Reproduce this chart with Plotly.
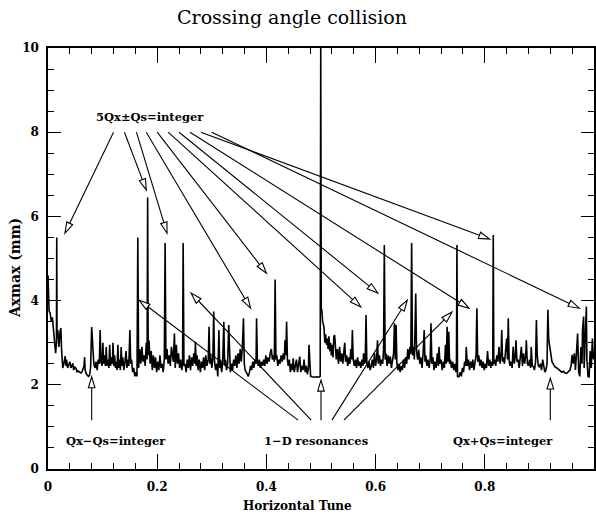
import math
import plotly.graph_objects as go

# ---------------- data ----------------
# (horizontal tune, Axmax in mm) samples, segment by segment
seg_a = [(0.000, 4.6), (0.002, 3.75), (0.004, 3.7), (0.006, 3.5), (0.008, 3.6), (0.010, 3.3),
         (0.012, 3.2), (0.014, 2.75), (0.0155, 3.0), (0.016, 5.5), (0.0165, 3.1), (0.018, 3.3),
         (0.020, 2.9), (0.022, 3.25), (0.0235, 3.35), (0.025, 2.8), (0.027, 2.4), (0.029, 2.5),
         (0.0315, 2.68), (0.033, 2.45), (0.034, 2.6), (0.036, 2.4), (0.038, 2.5), (0.040, 2.55)]
seg_b = [(0.042, 2.4), (0.044, 2.45), (0.0455, 2.51), (0.047, 2.35), (0.049, 2.42), (0.0515, 2.39),
         (0.053, 2.3), (0.055, 2.33), (0.0576, 2.31), (0.060, 2.28), (0.062, 2.3), (0.064, 2.4),
         (0.066, 2.45), (0.067, 2.66), (0.068, 2.35), (0.070, 2.26), (0.072, 2.22), (0.074, 2.2),
         (0.076, 2.22), (0.078, 2.4), (0.080, 3.37)]
seg_c = [(0.082, 2.75), (0.084, 2.5), (0.086, 2.4), (0.088, 2.55), (0.090, 2.35), (0.092, 2.6),
         (0.094, 2.5), (0.0955, 3.3), (0.097, 2.55), (0.099, 2.45), (0.1005, 3.0), (0.102, 2.5),
         (0.104, 2.7), (0.105, 2.45), (0.1067, 2.9), (0.108, 2.45), (0.110, 2.6), (0.1115, 2.4),
         (0.113, 2.95), (0.1145, 2.45), (0.116, 2.65), (0.118, 2.5), (0.119, 3.0), (0.1205, 2.45),
         (0.122, 2.7), (0.1235, 2.4), (0.125, 2.55), (0.1265, 2.35), (0.128, 2.95), (0.1295, 2.4),
         (0.131, 2.6), (0.1325, 2.35), (0.134, 2.9), (0.1355, 2.45), (0.137, 2.65), (0.139, 2.35),
         (0.141, 2.55), (0.143, 2.8), (0.1445, 2.4), (0.146, 2.6), (0.148, 2.45), (0.150, 3.3),
         (0.1515, 2.5), (0.153, 2.6), (0.155, 2.3), (0.157, 2.4), (0.159, 2.2), (0.161, 2.3),
         (0.163, 2.2), (0.1645, 5.5), (0.166, 2.4)]
seg_d = [(0.168, 2.85), (0.170, 2.5), (0.172, 2.9), (0.174, 2.55), (0.176, 2.7), (0.178, 2.45),
         (0.180, 3.0), (0.1815, 2.6), (0.1825, 6.45), (0.1835, 2.7), (0.185, 3.05), (0.187, 2.5),
         (0.189, 2.8), (0.191, 2.35), (0.193, 2.7), (0.195, 2.4), (0.197, 2.65), (0.199, 2.3),
         (0.201, 2.55), (0.203, 2.35), (0.205, 2.7), (0.207, 2.4), (0.209, 2.5), (0.211, 2.3),
         (0.213, 2.6), (0.2145, 5.37), (0.216, 2.6), (0.218, 2.85), (0.220, 2.5), (0.222, 2.7),
         (0.224, 2.45), (0.226, 2.9), (0.228, 2.6), (0.2295, 2.55), (0.2315, 3.22), (0.233, 2.4),
         (0.235, 2.95), (0.237, 2.5), (0.239, 2.75), (0.241, 2.4), (0.243, 2.6), (0.245, 2.35),
         (0.2465, 2.5), (0.2475, 5.37), (0.249, 2.45)]
seg_e = [(0.251, 2.5), (0.253, 2.3), (0.255, 2.6), (0.257, 2.4), (0.259, 2.7), (0.261, 2.35),
         (0.263, 2.65), (0.265, 2.45), (0.267, 2.75), (0.269, 2.5), (0.270, 3.02), (0.2715, 2.45),
         (0.273, 2.7), (0.275, 2.35), (0.277, 2.6), (0.279, 2.3), (0.281, 2.55), (0.283, 2.4),
         (0.285, 2.65), (0.287, 2.35), (0.289, 2.7), (0.291, 2.45), (0.2935, 2.6), (0.295, 3.38),
         (0.2965, 2.5), (0.298, 2.7), (0.300, 2.4), (0.302, 2.65), (0.3035, 3.74), (0.305, 2.55),
         (0.307, 2.35), (0.309, 2.5), (0.311, 2.2), (0.313, 3.3), (0.3145, 2.4), (0.316, 2.6),
         (0.318, 2.3), (0.320, 2.55), (0.322, 3.5), (0.3235, 2.45), (0.325, 2.6), (0.327, 2.35),
         (0.329, 2.5), (0.331, 3.42), (0.3325, 2.4), (0.334, 2.3), (0.336, 2.5), (0.338, 2.35),
         (0.340, 2.6), (0.342, 2.45), (0.344, 2.7), (0.346, 2.4), (0.348, 2.75), (0.350, 2.5),
         (0.352, 2.85), (0.354, 2.55), (0.356, 2.9), (0.358, 3.58), (0.3595, 2.5), (0.361, 2.35),
         (0.363, 2.3), (0.365, 2.25), (0.367, 2.2), (0.369, 2.3), (0.371, 2.45), (0.373, 2.35),
         (0.375, 2.55), (0.377, 2.4), (0.379, 2.6), (0.381, 2.5), (0.382, 3.58), (0.3835, 2.55),
         (0.385, 2.45), (0.387, 2.6), (0.389, 2.4), (0.391, 2.55), (0.393, 2.45), (0.395, 2.6),
         (0.397, 2.45), (0.399, 2.7), (0.401, 2.5), (0.403, 2.65), (0.405, 2.55), (0.407, 2.75),
         (0.409, 2.85), (0.411, 2.6), (0.413, 2.7), (0.4145, 2.55), (0.416, 4.5), (0.4175, 2.6)]
seg_f = [(0.419, 2.7), (0.421, 2.45), (0.423, 2.6), (0.425, 2.5), (0.427, 2.7), (0.429, 2.55),
         (0.431, 2.75), (0.433, 2.6), (0.434, 3.06), (0.4355, 2.7), (0.437, 3.5), (0.4385, 2.6),
         (0.440, 2.45), (0.442, 2.6), (0.444, 2.3), (0.446, 2.5), (0.448, 2.35), (0.449, 2.63),
         (0.451, 2.3), (0.453, 2.45), (0.455, 2.6), (0.457, 2.3), (0.459, 2.5), (0.461, 2.67),
         (0.463, 2.3), (0.465, 2.45), (0.467, 2.35), (0.469, 2.6), (0.471, 2.3), (0.473, 2.45),
         (0.475, 2.25), (0.477, 2.4), (0.478, 2.95), (0.4795, 2.4), (0.481, 2.2), (0.484, 2.19),
         (0.488, 2.18), (0.492, 2.19), (0.496, 2.18), (0.4985, 2.2), (0.4995, 10.0), (0.5005, 3.8)]
seg_g = [(0.5015, 3.78), (0.503, 3.5), (0.5055, 3.37), (0.507, 3.0), (0.5085, 3.2), (0.510, 2.95),
         (0.5115, 3.1), (0.513, 2.85), (0.5145, 3.15), (0.516, 2.8), (0.5175, 3.0), (0.519, 2.7),
         (0.5205, 2.95), (0.522, 2.65), (0.5235, 3.14), (0.525, 3.18), (0.5265, 2.7), (0.528, 2.6),
         (0.530, 2.85), (0.532, 2.5), (0.534, 2.9), (0.536, 2.55), (0.538, 2.75), (0.540, 2.5),
         (0.542, 2.8), (0.5435, 3.0), (0.545, 2.55), (0.547, 2.7), (0.549, 2.45), (0.551, 2.65),
         (0.553, 2.5), (0.5545, 2.85), (0.556, 2.6), (0.5575, 3.3), (0.559, 2.6), (0.561, 2.45),
         (0.563, 2.6), (0.565, 2.4), (0.567, 2.65), (0.569, 2.45), (0.571, 2.55), (0.573, 2.4),
         (0.575, 2.6), (0.577, 2.45), (0.578, 2.75), (0.5795, 2.5), (0.581, 2.55), (0.5825, 3.66),
         (0.584, 2.5), (0.586, 2.4), (0.588, 2.55), (0.590, 2.35), (0.592, 2.45), (0.594, 2.6),
         (0.596, 2.4), (0.598, 2.75), (0.600, 2.45), (0.602, 2.65), (0.6035, 3.06), (0.605, 2.5),
         (0.607, 2.7), (0.609, 2.45), (0.611, 2.6), (0.613, 2.5), (0.6145, 2.8), (0.616, 5.32),
         (0.6175, 2.6)]
seg_h = [(0.619, 2.75), (0.621, 2.45), (0.623, 2.7), (0.625, 2.5), (0.627, 2.67), (0.629, 2.4),
         (0.631, 2.6), (0.633, 2.75), (0.6345, 3.46), (0.636, 2.6), (0.6375, 3.42), (0.639, 2.5),
         (0.641, 2.35), (0.643, 2.5), (0.645, 2.3), (0.647, 2.45), (0.649, 2.35), (0.651, 2.6),
         (0.653, 2.4), (0.655, 2.65), (0.657, 2.5), (0.659, 2.85), (0.661, 2.6), (0.663, 2.9),
         (0.6645, 2.75), (0.666, 5.37), (0.6675, 2.7), (0.669, 2.9), (0.671, 2.6), (0.6735, 4.17),
         (0.675, 2.8), (0.677, 2.6), (0.679, 2.83), (0.681, 2.5), (0.683, 2.65), (0.685, 2.4),
         (0.687, 2.75), (0.689, 3.3), (0.6905, 2.55), (0.692, 2.7), (0.694, 2.45), (0.696, 2.6),
         (0.698, 2.4), (0.700, 2.6), (0.7015, 3.46), (0.703, 2.5), (0.705, 2.65), (0.707, 2.35),
         (0.709, 2.55), (0.711, 2.4), (0.713, 2.75), (0.715, 2.45), (0.716, 2.9), (0.718, 2.5),
         (0.720, 2.6), (0.722, 2.35), (0.724, 2.55), (0.726, 2.4), (0.728, 2.95), (0.7295, 2.5),
         (0.731, 3.38), (0.7325, 2.55), (0.734, 3.26), (0.7355, 2.5), (0.737, 2.6), (0.739, 2.4),
         (0.741, 2.55), (0.743, 2.35), (0.745, 2.5), (0.747, 2.3), (0.748, 2.4), (0.749, 5.32),
         (0.750, 2.2)]
seg_i = [(0.751, 2.19), (0.753, 2.2), (0.755, 2.3), (0.757, 2.2), (0.759, 2.4), (0.761, 2.3),
         (0.763, 2.55), (0.765, 2.45), (0.766, 2.9), (0.768, 2.45), (0.770, 2.6), (0.772, 2.35),
         (0.774, 2.55), (0.776, 2.4), (0.778, 2.6), (0.780, 2.35), (0.782, 2.5), (0.784, 2.7),
         (0.7855, 3.82), (0.787, 2.55), (0.789, 2.7), (0.791, 2.45), (0.793, 2.6), (0.795, 2.4),
         (0.797, 2.55), (0.799, 2.35), (0.801, 2.5), (0.803, 2.4), (0.805, 2.8), (0.807, 2.45),
         (0.809, 2.6), (0.811, 2.4), (0.813, 2.55), (0.8145, 2.45), (0.8155, 5.56), (0.8165, 2.5),
         (0.818, 2.6), (0.820, 2.45), (0.822, 2.7), (0.824, 2.55), (0.826, 2.9), (0.828, 2.5),
         (0.830, 2.75), (0.831, 3.3), (0.8325, 2.55), (0.834, 2.65), (0.836, 2.5), (0.838, 2.8),
         (0.840, 3.1), (0.8415, 2.6), (0.843, 3.58), (0.8445, 2.6), (0.846, 2.45), (0.848, 2.55),
         (0.850, 2.4), (0.852, 2.9), (0.854, 2.5), (0.856, 2.7), (0.857, 3.06), (0.859, 2.55),
         (0.861, 2.6), (0.863, 2.4), (0.865, 2.65), (0.867, 2.9), (0.869, 2.45), (0.871, 2.75),
         (0.873, 2.5), (0.875, 2.7), (0.876, 3.06), (0.878, 2.5), (0.880, 2.45), (0.882, 2.6),
         (0.884, 2.4), (0.885, 2.9), (0.887, 2.45), (0.889, 2.43), (0.891, 2.35), (0.893, 2.55),
         (0.8945, 3.54), (0.896, 2.7), (0.898, 2.45), (0.900, 2.43), (0.902, 2.5), (0.904, 2.35),
         (0.906, 2.6), (0.908, 2.4), (0.910, 2.3), (0.912, 2.35), (0.914, 2.5), (0.9155, 3.78),
         (0.917, 3.1), (0.919, 2.9), (0.921, 2.65)]
seg_j = [(0.923, 2.55), (0.926, 2.48), (0.929, 2.42), (0.932, 2.4), (0.935, 2.36), (0.938, 2.33),
         (0.941, 2.3), (0.944, 2.32), (0.947, 2.28), (0.950, 2.27), (0.953, 2.3), (0.956, 2.35),
         (0.958, 2.45), (0.960, 2.71), (0.962, 2.5), (0.964, 2.75), (0.966, 2.35), (0.968, 2.7),
         (0.970, 3.22), (0.972, 2.3), (0.974, 2.2), (0.976, 2.9), (0.978, 2.5), (0.979, 3.3),
         (0.981, 3.62), (0.982, 2.4), (0.984, 3.0), (0.986, 3.86), (0.987, 2.6), (0.989, 2.2),
         (0.991, 2.19), (0.993, 2.8), (0.995, 2.4), (0.997, 3.1), (0.999, 2.6)]

segments = [seg_a, seg_b, seg_c, seg_d, seg_e, seg_f, seg_g, seg_h, seg_i, seg_j]
tune = [p[0] for s in segments for p in s]
axmax = [p[1] for s in segments for p in s]

title_text = "Crossing angle collision"
x_title = "Horizontal Tune"
y_title = "Axmax (mm)"

label_text = ["5Qx\u00b1Qs=integer", "Qx\u2212Qs=integer", "1\u2212D resonances", "Qx+Qs=integer"]
label_x = [0.187, 0.124, 0.491, 0.833]
label_y = [8.36, 0.66, 0.66, 0.66]

# arrows: tail (at the label) -> tip (at the resonance)
arrow_tail_x = [0.12, 0.14, 0.162, 0.18, 0.20, 0.22, 0.24, 0.26, 0.28, 0.30,
                0.458, 0.482, 0.50, 0.52, 0.542, 0.08, 0.92]
arrow_tail_y = [8.0, 8.0, 8.0, 8.0, 8.0, 8.0, 8.0, 8.0, 8.0, 8.0,
                1.16, 1.16, 1.16, 1.16, 1.16, 1.16, 1.16]
arrow_tip_x = [0.031, 0.18, 0.218, 0.371, 0.40, 0.573, 0.604, 0.771, 0.809, 0.973,
               0.167, 0.262, 0.50, 0.658, 0.74, 0.08, 0.92]
arrow_tip_y = [5.6, 6.63, 5.6, 3.82, 4.65, 3.85, 4.18, 3.82, 5.46, 3.82,
               4.01, 4.18, 2.11, 4.01, 3.73, 2.19, 2.16]

# ---------------- figure ----------------
W, H = 596, 515
ML, MR, MT, MB = 48, 0, 48, 46
XR = [0, 1]
YR = [0, 10]
PXX = (W - ML - MR) / (XR[1] - XR[0])
PXY = (H - MT - MB) / (YR[1] - YR[0])

SERIF = "DejaVu Serif"

fig = go.Figure()
fig.add_trace(go.Scatter(x=tune, y=axmax, mode="lines",
                         line=dict(color="black", width=1.6), hoverinfo="skip",
                         showlegend=False))

shapes = []
HL, HW = 11.0, 3.3
for tx, ty, hx, hy in zip(arrow_tail_x, arrow_tail_y, arrow_tip_x, arrow_tip_y):
    dx = (hx - tx) * PXX
    dy = (hy - ty) * PXY
    L = math.hypot(dx, dy)
    ux, uy = dx / L, dy / L
    nx, ny = -uy, ux
    bx = hx - HL * ux / PXX
    by = hy - HL * uy / PXY
    c1x, c1y = bx + HW * nx / PXX, by + HW * ny / PXY
    c2x, c2y = bx - HW * nx / PXX, by - HW * ny / PXY
    shapes.append(dict(type="line", xref="x", yref="y", x0=tx, y0=ty, x1=bx, y1=by,
                       line=dict(color="black", width=1.1)))
    shapes.append(dict(type="path", xref="x", yref="y",
                       path=f"M {hx} {hy} L {c1x} {c1y} L {c2x} {c2y} Z",
                       fillcolor="white", line=dict(color="black", width=1.1)))

annotations = []
for t, x, y in zip(label_text, label_x, label_y):
    annotations.append(dict(x=x, y=y, xref="x", yref="y", text=t, showarrow=False,
                            font=dict(family=SERIF, size=11.5, color="black", weight="bold"),
                            xanchor="center", yanchor="middle"))

annotations.append(dict(x=(298 - ML) / (W - ML - MR), y=(H - MB - 506) / (H - MT - MB),
                        xref="paper", yref="paper", text=x_title, showarrow=False,
                        font=dict(family=SERIF, size=12, color="black", weight="bold"),
                        xanchor="center", yanchor="middle"))
annotations.append(dict(x=(15 - ML) / (W - ML - MR), y=(H - MB - 268) / (H - MT - MB),
                        xref="paper", yref="paper", text=y_title, showarrow=False,
                        textangle=-90,
                        font=dict(family=SERIF, size=14, color="black", weight="bold"),
                        xanchor="center", yanchor="middle"))

axis_common = dict(showline=True, linecolor="black", linewidth=1.5, mirror="allticks",
                   ticks="inside", tickcolor="black", tickwidth=1.2, showgrid=False,
                   zeroline=False,
                   tickfont=dict(family=SERIF, size=12, color="black", weight="bold"))

fig.update_layout(
    width=W, height=H, autosize=False,
    margin=dict(l=ML, r=MR, t=MT, b=MB, pad=0),
    paper_bgcolor="white", plot_bgcolor="white",
    title=dict(text=title_text, x=0.49, xref="container", xanchor="center",
               y=1 - 17 / H, yref="container", yanchor="middle",
               font=dict(family=SERIF, size=19, color="black")),
    shapes=shapes, annotations=annotations, showlegend=False,
)
fig.update_xaxes(range=XR, tick0=0, dtick=0.2, ticklen=15, ticklabelstandoff=6,
                 minor=dict(ticks="inside", dtick=0.04, ticklen=6, tickcolor="black",
                            tickwidth=1.1),
                 **axis_common)
fig.update_yaxes(range=YR, tick0=0, dtick=2, ticklen=13, ticklabelstandoff=5,
                 minor=dict(ticks="inside", dtick=0.5, ticklen=6, tickcolor="black",
                            tickwidth=1.1),
                 **axis_common)

fig.write_html("out.html")
